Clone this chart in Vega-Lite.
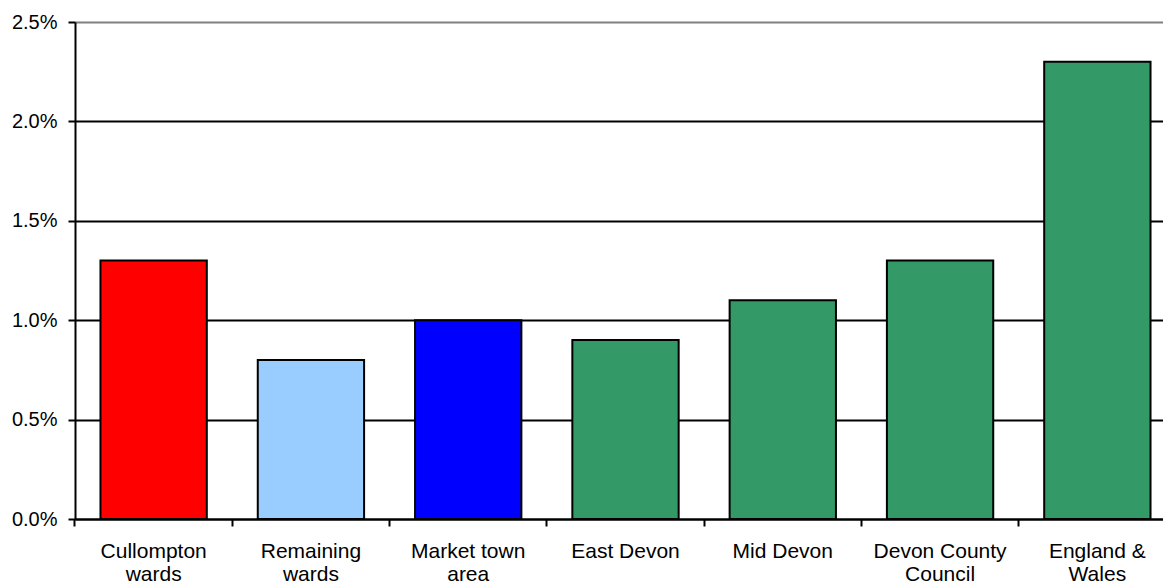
{
  "$schema": "https://vega.github.io/schema/vega-lite/v6.json",
  "autosize": {"type": "none"},
  "width": 1088,
  "height": 497,
  "padding": {"top": 22, "left": 75, "right": 0, "bottom": 65},
  "background": "white",
  "config": {
    "view": {"stroke": null},
    "font": "Liberation Sans",
    "axis": {"labelFont": "Liberation Sans", "labelColor": "black"}
  },
  "data": {
    "values": [
      {"area": "Cullompton wards", "share": 0.013},
      {"area": "Remaining wards", "share": 0.008},
      {"area": "Market town area", "share": 0.010},
      {"area": "East Devon", "share": 0.009},
      {"area": "Mid Devon", "share": 0.011},
      {"area": "Devon County Council", "share": 0.013},
      {"area": "England & Wales", "share": 0.023}
    ]
  },
  "mark": {"type": "bar", "stroke": "black", "strokeWidth": 2},
  "encoding": {
    "x": {
      "field": "area",
      "type": "nominal",
      "sort": null,
      "scale": {"range": [0, 1101], "paddingInner": 0.324, "paddingOuter": 0.162},
      "axis": {
        "title": null,
        "labelAngle": 0,
        "labelFontSize": 21,
        "labelLineHeight": 23.5,
        "labelBaseline": "top",
        "labelPadding": 14,
        "labelExpr": "length(datum.label) > 10 ? [substring(datum.label, 0, lastindexof(datum.label, ' ')), substring(datum.label, lastindexof(datum.label, ' ') + 1)] : datum.label",
        "tickSize": 7,
        "tickWidth": 2,
        "tickColor": "black",
        "bandPosition": -0.24,
        "domainColor": "black",
        "domainWidth": 2,
        "grid": false
      }
    },
    "y": {
      "field": "share",
      "type": "quantitative",
      "scale": {"domain": [0, 0.025], "nice": false},
      "axis": {
        "title": null,
        "values": [0, 0.005, 0.01, 0.015, 0.02, 0.025],
        "format": ".1%",
        "labelFontSize": 20,
        "labelPadding": 11,
        "tickSize": 7,
        "tickWidth": 2,
        "tickColor": "black",
        "domainColor": "black",
        "domainWidth": 2,
        "grid": true,
        "gridWidth": 2,
        "gridColor": {"condition": {"test": "datum.value >= 0.025", "value": "#808080"}, "value": "black"}
      }
    },
    "color": {
      "field": "area",
      "type": "nominal",
      "legend": null,
      "scale": {
        "domain": ["Cullompton wards", "Remaining wards", "Market town area", "East Devon", "Mid Devon", "Devon County Council", "England & Wales"],
        "range": ["#FF0000", "#99CCFF", "#0000FF", "#339966", "#339966", "#339966", "#339966"]
      }
    }
  }
}
